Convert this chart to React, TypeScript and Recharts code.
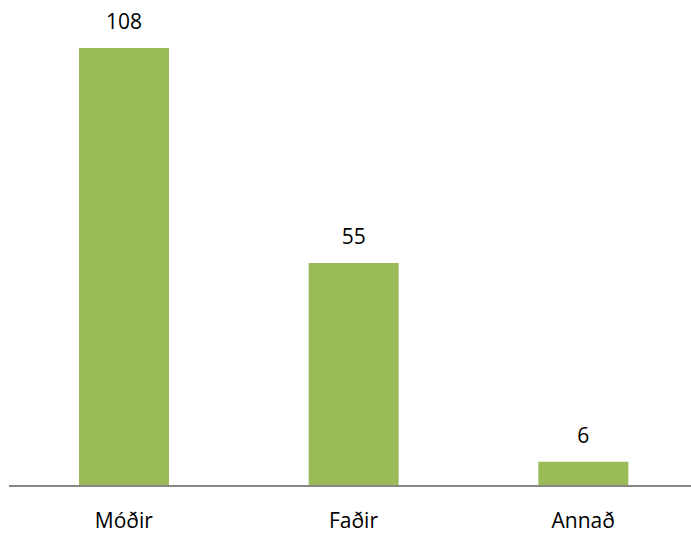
import React from "react";
import { BarChart, Bar, XAxis, YAxis, LabelList } from "recharts";

const categories = ["Móðir", "Faðir", "Annað"];
const values = [108, 55, 6];

const data = categories.map((name, i) => ({ name, value: values[i] }));

const font = "'Open Sans', sans-serif";

const App = () => {
  return (
    <div
      style={{
        position: "absolute",
        left: 0,
        top: 0,
        width: 691,
        height: 537,
        overflow: "hidden",
        background: "#fff",
      }}
    >
      <BarChart
        width={700}
        height={537}
        data={data}
        margin={{ top: 48, right: 2, left: 9, bottom: 0 }}
      >
        <XAxis
          dataKey="name"
          height={51}
          axisLine={{ stroke: "#878787", strokeWidth: 2 }}
          tickLine={false}
          tickSize={0}
          tickMargin={27}
          tick={{ fill: "#000", fontSize: 21, fontFamily: font }}
        />
        <YAxis hide domain={[0, 108]} />
        <Bar dataKey="value" fill="#9BBB59" barSize={90} isAnimationActive={false}>
          <LabelList
            dataKey="value"
            position="top"
            offset={19}
            style={{ fill: "#000", fontSize: 21, fontFamily: font }}
          />
        </Bar>
      </BarChart>
    </div>
  );
};

export default App;
